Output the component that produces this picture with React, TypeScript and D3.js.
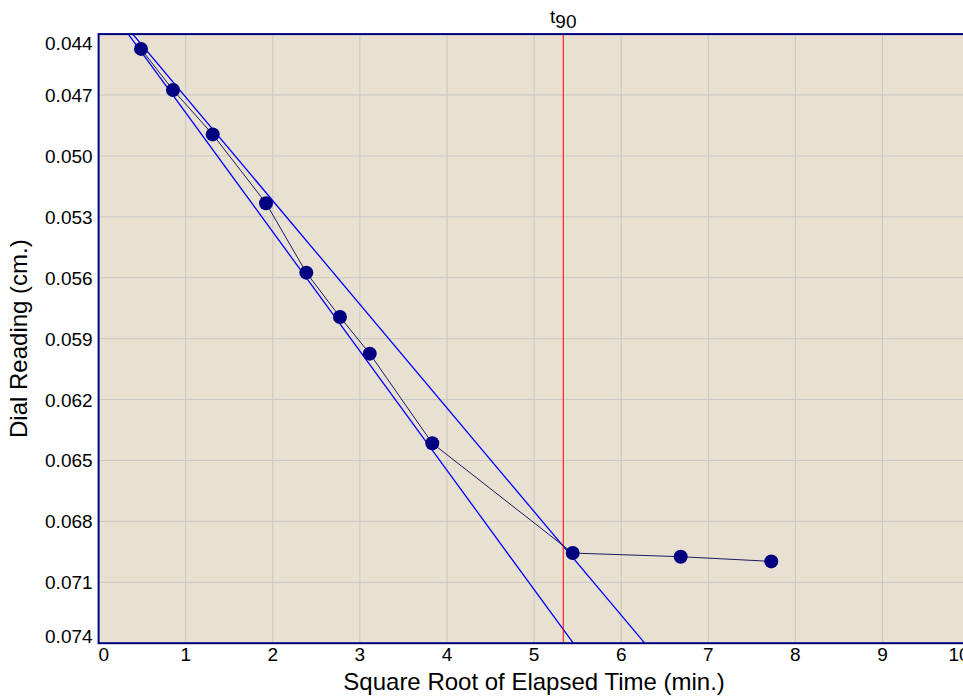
import React from "react";
import * as d3 from "d3";

// Square-root-of-time consolidation readings
const rootTime = [0.487, 0.854, 1.31, 1.922, 2.385, 2.771, 3.113, 3.831, 5.443, 6.683, 7.723];
const dialReading = [0.04473, 0.04675, 0.04894, 0.05233, 0.05575, 0.05793, 0.05974, 0.06415, 0.06956, 0.06974, 0.06997];

// Initial straight-line fit and the 1.15x abscissa line
const initialLineX = [0, 5.45];
const initialLineY = [0.042, 0.074];
const offsetLineX = [0, 6.27];
const offsetLineY = [0.042, 0.074];

const t90 = 5.335;

const xTicks = [0, 1, 2, 3, 4, 5, 6, 7, 8, 9, 10];
const yTicks = [0.044, 0.047, 0.05, 0.053, 0.056, 0.059, 0.062, 0.065, 0.068, 0.071, 0.074];

const W = 963;
const H = 698;
const left = 98.6;
const top = 34.1;
const bottom = 643.2;
const right = 969.6;

export default function App() {
  const x = d3.scaleLinear().domain([0, 10]).range([left, right]);
  const y = d3.scaleLinear().domain([0.044, 0.074]).range([top, bottom]);

  const pts = rootTime.map((t, i) => [t, dialReading[i]] as [number, number]);
  const line = d3
    .line<[number, number]>()
    .x((d) => x(d[0]))
    .y((d) => y(d[1]));

  const lineA = initialLineX.map((v, i) => [v, initialLineY[i]] as [number, number]);
  const lineB = offsetLineX.map((v, i) => [v, offsetLineY[i]] as [number, number]);

  const font = "Arial, 'Liberation Sans', sans-serif";

  return (
    <svg
      width={W}
      height={H}
      style={{ position: "absolute", left: 0, top: 0, background: "#fff" }}
      fontFamily={font}
    >
      <defs>
        <clipPath id="plot-clip">
          <rect x={left} y={top} width={right - left} height={bottom - top} />
        </clipPath>
      </defs>
      <rect x={left} y={top} width={right - left} height={bottom - top} fill="#e8e0d1" />
      <g stroke="#c9c7c3" strokeWidth={1}>
        {xTicks.map((t) => (
          <line key={"gx" + t} x1={x(t)} x2={x(t)} y1={top} y2={bottom} />
        ))}
        {yTicks.map((t) => (
          <line key={"gy" + t} x1={left} x2={right} y1={y(t)} y2={y(t)} />
        ))}
      </g>
      <g clipPath="url(#plot-clip)">
        <path d={line(lineA) || ""} fill="none" stroke="#0000ff" strokeWidth={1.3} />
        <path d={line(lineB) || ""} fill="none" stroke="#0000ff" strokeWidth={1.3} />
        <line x1={x(t90)} x2={x(t90)} y1={top} y2={bottom} stroke="#ff0000" strokeWidth={1} />
        <path d={line(pts) || ""} fill="none" stroke="#1a1a5e" strokeWidth={1} />
        {pts.map((p, i) => (
          <circle key={i} cx={x(p[0])} cy={y(p[1])} r={7} fill="#000080" />
        ))}
      </g>
      <rect
        x={left}
        y={top}
        width={right - left}
        height={bottom - top}
        fill="none"
        stroke="#000080"
        strokeWidth={2}
      />
      <g fontSize={19} fill="#000">
        {yTicks.map((t, i) => {
          let yy = y(t) + 7;
          if (i === 0) yy = top + 16;
          else if (i === yTicks.length - 1) yy = bottom;
          return (
            <text key={"yl" + t} x={left - 6} y={yy} textAnchor="end">
              {d3.format(".3f")(t)}
            </text>
          );
        })}
        {xTicks.map((t, i) => {
          const anchor = i === 0 ? "start" : i === xTicks.length - 1 ? "end" : "middle";
          return (
            <text key={"xl" + t} x={x(t)} y={661} textAnchor={anchor}>
              {t}
            </text>
          );
        })}
      </g>
      <text x={(left + right) / 2} y={690} textAnchor="middle" fontSize={24}>
        Square Root of Elapsed Time (min.)
      </text>
      <text
        transform={`translate(27, ${(top + bottom) / 2}) rotate(-90)`}
        textAnchor="middle"
        fontSize={24}
      >
        Dial Reading (cm.)
      </text>
      <text x={x(t90)} y={23} textAnchor="middle" fontSize={19}>
        t<tspan dy={5}>90</tspan>
      </text>
    </svg>
  );
}
